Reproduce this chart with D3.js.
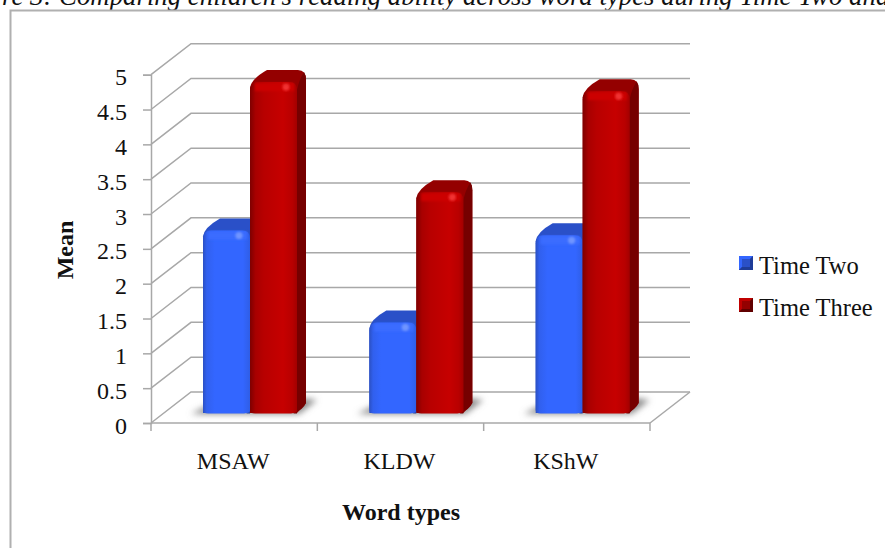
<!DOCTYPE html>
<html>
<head>
<meta charset="utf-8">
<script src="https://cdn.jsdelivr.net/npm/d3@7"></script>
<style>
  html, body { margin: 0; padding: 0; background: #fff; overflow: hidden; }
  text { font-family: "Liberation Serif", serif; fill: #111; }
</style>
</head>
<body>
<div id="chart"></div>
<script>
const categories = ["MSAW", "KLDW", "KShW"];
const seriesNames = ["Time Two", "Time Three"];
const timeTwo = [2.62, 1.3, 2.55];
const timeThree = [4.75, 3.17, 4.62];
const yTicks = [0, 0.5, 1, 1.5, 2, 2.5, 3, 3.5, 4, 4.5, 5];

const width = 885, height = 548;
const gridColor = "#a8a8a8";
// 3d look of the plot: how far the back wall sits from the front axis
const wallDx = 40, wallDy = -31;
// bars stand part way into the floor
const barLift = 10, sideDx = 9, sideDy = -12;

const svg = d3.select("#chart").append("svg")
  .attr("width", width)
  .attr("height", height)
  .style("display", "block");

const defs = svg.append("defs");

const addGradient = (id, stops) => {
  const g = defs.append("linearGradient").attr("id", id)
    .attr("x1", 0).attr("x2", 1).attr("y1", 0).attr("y2", 0);
  stops.forEach(s => g.append("stop").attr("offset", s[0]).attr("stop-color", s[1]));
};
addGradient("blueFront", [[0, "#2b50c4"], [0.08, "#3160ee"], [0.25, "#3366ff"], [0.85, "#3366ff"], [1, "#2f5ee6"]]);
addGradient("redFront", [[0, "#7e0000"], [0.12, "#a80000"], [0.3, "#b80000"], [0.7, "#c60000"], [0.9, "#b80000"], [1, "#a30000"]]);

const blur = (id, dev) => defs.append("filter").attr("id", id)
  .attr("x", "-30%").attr("y", "-60%").attr("width", "160%").attr("height", "220%")
  .append("feGaussianBlur").attr("stdDeviation", dev);
blur("soft", 3);
blur("softer", 1.2);

// frame + clipped caption from the page behind the chart
svg.append("text")
  .attr("x", 2).attr("y", 5)
  .style("font-size", "26.8px").style("font-style", "italic")
  .text("re 3: Comparing children\u2019s reading ability across word types during Time Two and");

svg.append("path")
  .attr("d", "M10.5,548V10.5H885")
  .attr("fill", "none").attr("stroke", "#b0b0b0").attr("stroke-width", 2);

const y = d3.scaleLinear().domain([0, 5]).range([423, 74.7]);
const x0 = d3.scaleBand().domain(categories).range([151, 650]);
const x1 = d3.scaleBand().domain(seriesNames).range([52, 146]);

// walls and floor
const grid = svg.append("g").attr("fill", "none").attr("stroke", gridColor).attr("stroke-width", 1.5);
grid.selectAll("path")
  .data(yTicks)
  .join("path")
  .attr("d", d => `M${x0.range()[0]},${y(d)}l${wallDx},${wallDy}H${x0.range()[1] + wallDx}`);
grid.append("path")
  .attr("d", `M${x0.range()[1]},${y(0)}l${wallDx},${wallDy}`);

const yAxis = d3.axisLeft(y).tickValues(yTicks).tickSize(8).tickPadding(16).tickFormat(d => d);
const gy = svg.append("g").attr("transform", `translate(${x0.range()[0]},0)`).call(yAxis);
gy.selectAll("text").style("font-size", "24px").attr("dy", "0.42em").style("font-family", null);

const xAxis = d3.axisBottom(x0).tickSize(0).tickPadding(41);
const gx = svg.append("g").attr("transform", `translate(0,${y(0)})`).call(xAxis);
gx.selectAll("text").style("font-size", "24px").attr("dy", "0.2em").attr("dx", -1).style("font-family", null);
gx.selectAll(".domain").remove();
gx.append("path").attr("d", `M${x0.range()[0]},0H${x0.range()[1]}`)
  .attr("stroke", gridColor).attr("stroke-width", 1.5).attr("fill", "none");
// group separators are at the band edges, not the band centres
gx.selectAll(".edge")
  .data([0, 1, 2, 3])
  .join("line")
  .attr("class", "edge")
  .attr("x1", i => x0.range()[0] + i * x0.step())
  .attr("x2", i => x0.range()[0] + i * x0.step())
  .attr("y1", 0).attr("y2", 8)
  .attr("stroke", gridColor).attr("stroke-width", 1.5);
gy.selectAll(".domain,line").attr("stroke", gridColor).attr("stroke-width", 1.5);

// floor shadows
const base = y(0) - barLift;
svg.append("g").selectAll("path")
  .data(categories)
  .join("path")
  .attr("d", d => {
    const l = x0(d) + x1(seriesNames[0]);
    return `M${l - 12},${base + 1}L${l + 96},${base + 1}L${l + 114},${base - 13}L${l + 88},${base - 16}L${l + 6},${base - 8}Z`;
  })
  .attr("fill", "#8a8a8a")
  .attr("filter", "url(#soft)");

const palette = {
  "Time Two": { front: "url(#blueFront)", top: "#2a50c8", side: "#2444a8", glow: "#6f94ff", lip: "#3a6cff" },
  "Time Three": { front: "url(#redFront)", top: "#940000", side: "#760000", glow: "#f03030", lip: "#cc0000" }
};

const rows = [
  { name: seriesNames[0], values: timeTwo },
  { name: seriesNames[1], values: timeThree }
];

const bars = svg.append("g");
rows.forEach(row => {
  const c = palette[row.name];
  categories.forEach((cat, i) => {
    const l = x0(cat) + x1(row.name);
    const w = x1.bandwidth();
    const r = l + w;
    const t = y(row.values[i]) - barLift;
    const g = bars.append("g");
    // whole silhouette, this colour shows as the top face
    g.append("path")
      .attr("d", `M${l},${t + 6}Q${l + 1},${t - 3} ${l + 17},${t + sideDy}H${r + 1}Q${r + sideDx},${t + sideDy} ${r + sideDx},${t + sideDy + 10}V${base + sideDy + 2}L${r},${base}H${l}Z`)
      .attr("fill", c.top);
    // side
    g.append("path")
      .attr("d", `M${r},${t + 8}Q${r + 2},${t - 2} ${r + sideDx - 2},${t + sideDy + 2}Q${r + sideDx},${t + sideDy + 5} ${r + sideDx},${t + sideDy + 10}V${base + sideDy + 2}Q${r + 6},${base - 3} ${r - 4},${base + 0.5}H${r}Z`)
      .attr("fill", c.side);
    // front
    g.append("path")
      .attr("d", `M${l},${base - 3}Q${l},${base + 0.5} ${l + 5},${base + 0.5}H${r - 6}Q${r},${base} ${r},${base - 3}V${t + 8}Q${r},${t} ${r - 8},${t}H${l + 8}Q${l},${t} ${l},${t + 8}Z`)
      .attr("fill", c.front);
    // bevel highlight near the top right corner
    g.append("rect")
      .attr("x", l + 5).attr("y", t + 1).attr("width", w - 8).attr("height", 8)
      .attr("fill", c.lip).attr("filter", "url(#softer)");
    g.append("circle")
      .attr("cx", l + w - 11).attr("cy", t + 5).attr("r", 3.6)
      .attr("fill", c.glow).attr("filter", "url(#softer)");
  });
});

// axis titles
svg.append("text")
  .attr("transform", "translate(73,250) rotate(-90)")
  .attr("text-anchor", "middle")
  .style("font-size", "24px").style("font-weight", "bold")
  .text("Mean");
svg.append("text")
  .attr("x", 401).attr("y", 520)
  .attr("text-anchor", "middle")
  .style("font-size", "24px").style("font-weight", "bold")
  .text("Word types");

// legend
const legendY = d3.scalePoint().domain(seriesNames).range([256, 298]);
const legendColors = {
  "Time Two": ["#3366ff", "#2a50c8", "#1f3c98"],
  "Time Three": ["#c00000", "#940000", "#600000"]
};
const legend = svg.append("g").selectAll("g")
  .data(seriesNames)
  .join("g")
  .attr("transform", d => `translate(739,${legendY(d)})`);
legend.append("rect").attr("width", 14).attr("height", 14).attr("fill", d => legendColors[d][1]);
legend.append("path").attr("d", "M0,0H14L0,14Z").attr("fill", d => legendColors[d][0]);
legend.append("path").attr("d", "M14,0V14H0Z").attr("fill", d => legendColors[d][2]);
legend.append("path").attr("d", "M3,3H11V11H3Z").attr("fill", d => legendColors[d][1]);
legend.append("text")
  .attr("x", 20).attr("y", 18)
  .style("font-size", "24.5px")
  .text(d => d);
</script>
</body>
</html>
